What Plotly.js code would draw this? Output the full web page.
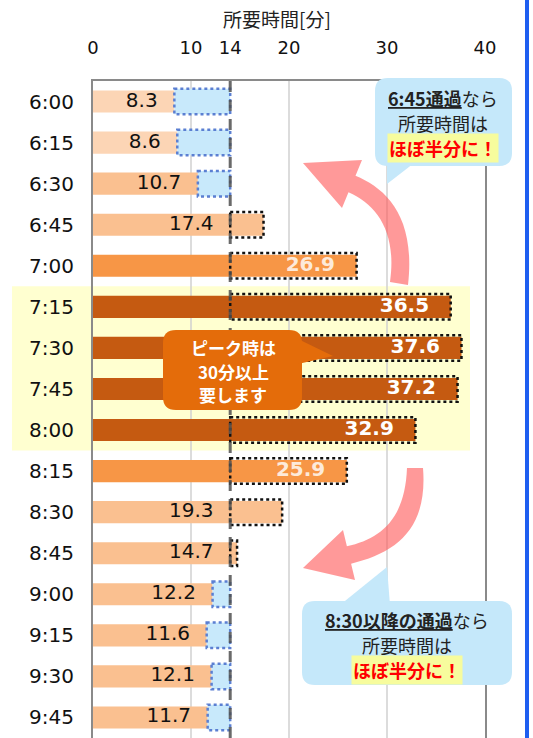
<!DOCTYPE html>
<html>
<head>
<meta charset="utf-8">
<script src="https://cdn.plot.ly/plotly-3.0.1.min.js"></script>
<style>html,body{margin:0;padding:0;background:#fff;}#chart{width:533px;height:738px;}</style>
</head>
<body>
<div id="chart"></div>
<script>
// ---- data ----
const times = ['6:00','6:15','6:30','6:45','7:00','7:15','7:30','7:45','8:00','8:15','8:30','8:45','9:00','9:15','9:30','9:45'];
const minutes = [8.3, 8.6, 10.7, 17.4, 26.9, 36.5, 37.6, 37.2, 32.9, 25.9, 19.3, 14.7, 12.2, 11.6, 12.1, 11.7];
const threshold = 14;
const xTickVals = [0, 10, 14, 20, 30, 40];
const peakTimes = ['7:15','7:30','7:45','8:00'];
const axisTitle = '所要時間[分]';

// ---- styles ----
const barColors = ['#FCD5B5','#FCD5B5','#FAC090','#FAC090','#F79646','#C55A11','#C55A11','#C55A11','#C55A11','#F79646','#FAC090','#FAC090','#FAC090','#FAC090','#FAC090','#FAC090'];
const labelColors = barColors.map(c => c === '#C55A11' ? '#FFFFFF' : (c === '#F79646' ? '#FDEADA' : '#111111'));
const FONT = 'DejaVu Sans, Noto Sans CJK JP, sans-serif';
const JFONT = 'Noto Sans CJK JP, DejaVu Sans, sans-serif';

// plot geometry (pixels)
const W = 533, H = 738, ML = 93, MR = 48, MT = 81, MB = 0;
const PW = W - ML - MR, PH = H - MT - MB;
const X = px => (px - ML) / PW;
const Y = py => 1 - (py - MT) / PH;
const P = s => s.replace(/(-?\d+(?:\.\d+)?),(-?\d+(?:\.\d+)?)/g, (m, a, b) => X(+a).toFixed(5) + ',' + Y(+b).toFixed(5));
const rr = (x0, y0, x1, y1, r) => P(`M${x0+r},${y0} L${x1-r},${y0} Q${x1},${y0} ${x1},${y0+r} L${x1},${y1-r} Q${x1},${y1} ${x1-r},${y1} L${x0+r},${y1} Q${x0},${y1} ${x0},${y1-r} L${x0},${y0+r} Q${x0},${y0} ${x0+r},${y0} Z`);
const idxPaper = i => 1 - (i + 0.5) / times.length;

// label positions derived from data
const labelX = minutes.map(v => v < 20 ? Math.min(v, threshold) - 1.7 : v - 2.2);
const labelText = minutes.map((v, i) => (barColors[i] === '#C55A11' || barColors[i] === '#F79646') ? '<b>' + v.toFixed(1) + '</b>' : v.toFixed(1));

const traces = [
  { type: 'bar', orientation: 'h', y: times, x: minutes, width: 0.54,
    marker: { color: barColors, line: { width: 0 } }, hoverinfo: 'skip', showlegend: false },
  { type: 'scatter', mode: 'text', y: times, x: labelX, text: labelText,
    textposition: 'middle left', textfont: { family: FONT, size: 20, color: labelColors },
    hoverinfo: 'skip', showlegend: false, cliponaxis: false }
];

const shapes = [];
// peak band
const pFirst = times.indexOf(peakTimes[0]), pLast = times.indexOf(peakTimes[peakTimes.length - 1]);
shapes.push({ type: 'rect', xref: 'paper', yref: 'paper', x0: X(12), x1: X(470),
  y0: idxPaper(pLast + 0.5), y1: idxPaper(pFirst - 0.5), fillcolor: '#FFFFD0', line: { width: 0 }, layer: 'below' });
// gridlines
[10, 20, 30].forEach(v => shapes.push({ type: 'line', xref: 'x', yref: 'paper', x0: v, x1: v, y0: 0, y1: 1,
  line: { color: '#D0D0D0', width: 1.5 }, layer: 'below' }));
// difference boxes
minutes.forEach((v, i) => {
  const below = v < threshold;
  shapes.push({ type: 'rect', xref: 'x', yref: 'y', x0: Math.min(v, threshold), x1: Math.max(v, threshold),
    y0: i - 0.31, y1: i + 0.31, fillcolor: below ? '#C8E9FB' : 'rgba(0,0,0,0)',
    line: { color: below ? '#5B7FD2' : '#111111', width: 2.5, dash: 'dot' }, layer: 'above' });
});
// threshold dashed line
shapes.push({ type: 'line', xref: 'x', yref: 'paper', x0: threshold, x1: threshold, y0: 0, y1: 1,
  line: { color: 'rgba(80,80,80,0.85)', width: 3, dash: '11px,8px' }, layer: 'above' });
// arrows
const arrowFill = 'rgba(255,85,85,0.6)';
shapes.push({ type: 'path', xref: 'paper', yref: 'paper', layer: 'above', fillcolor: arrowFill, line: { width: 0 },
  path: P('M303,163 L362,160 L355.5,175.7 C385,188 416,215 408,285 L390,282 C397,232 377,205 348.5,192.3 L342,208 Z') });
shapes.push({ type: 'path', xref: 'paper', yref: 'paper', layer: 'above', fillcolor: arrowFill, line: { width: 0 },
  path: P('M303,568 L343,530 L346.9,546.3 C380,539 405,520 407,468 L423,468 C428,530 395,553 351.1,563.7 L355,580 Z') });
// callouts
const calloutBlue = '#C5E8FA';
shapes.push({ type: 'path', xref: 'paper', yref: 'paper', layer: 'above', fillcolor: calloutBlue, line: { width: 0 }, path: rr(375, 78, 512, 166, 13) });
shapes.push({ type: 'path', xref: 'paper', yref: 'paper', layer: 'above', fillcolor: calloutBlue, line: { width: 0 }, path: P('M387,160 L418,160 L387,184 Z') });
shapes.push({ type: 'path', xref: 'paper', yref: 'paper', layer: 'above', fillcolor: calloutBlue, line: { width: 0 }, path: rr(302, 601, 512, 685, 13) });
shapes.push({ type: 'path', xref: 'paper', yref: 'paper', layer: 'above', fillcolor: calloutBlue, line: { width: 0 }, path: P('M340,605 L387,567 L390,605 Z') });
const calloutOrange = '#E46C0A';
shapes.push({ type: 'path', xref: 'paper', yref: 'paper', layer: 'above', fillcolor: calloutOrange, line: { width: 0 }, path: rr(163, 330, 302, 410, 13) });
shapes.push({ type: 'path', xref: 'paper', yref: 'paper', layer: 'above', fillcolor: calloutOrange, line: { width: 0 }, path: P('M298,339 L333,356 L298,364 Z') });
// right frame edge
shapes.push({ type: 'line', xref: 'paper', yref: 'paper', x0: X(527), x1: X(527), y0: Y(0), y1: Y(738), line: { color: '#1E5EF0', width: 4 }, layer: 'above' });

const ann = (px, py, text, size, color, extra) => Object.assign({ xref: 'paper', yref: 'paper', x: X(px), y: Y(py),
  xanchor: 'center', yanchor: 'middle', showarrow: false, text: text, font: { family: JFONT, size: size, color: color } }, extra || {});
const U = t => '<span style="text-decoration:underline">' + t + '</span>';
const annotations = [
  ann(277, 18, axisTitle, 19, '#222'),
  ann(443, 98, '<b>' + U('6:45通過') + '</b>なら', 18, '#222'),
  ann(443, 123, '所要時間は', 18, '#222'),
  ann(443, 148, '<b>ほぼ半分に！</b>', 18, '#FF0000', { bgcolor: 'rgba(255,255,140,0.85)', borderpad: 1 }),
  ann(407, 620, '<b>' + U('8:30以降の通過') + '</b>なら', 18, '#222'),
  ann(407, 645, '所要時間は', 18, '#222'),
  ann(407, 670, '<b>ほぼ半分に！</b>', 18, '#FF0000', { bgcolor: 'rgba(255,255,140,0.85)', borderpad: 1 }),
  ann(233, 348, '<b>ピーク時は</b>', 17, '#FFFFFF'),
  ann(233, 371, '<b>30分以上</b>', 17, '#FFFFFF'),
  ann(233, 394, '<b>要します</b>', 17, '#FFFFFF')
];

const layout = {
  width: W, height: H, margin: { l: ML, r: MR, t: MT, b: MB, pad: 0 },
  paper_bgcolor: '#FFFFFF', plot_bgcolor: 'rgba(0,0,0,0)',
  font: { family: FONT, color: '#111' },
  barmode: 'overlay', showlegend: false,
  xaxis: { side: 'top', range: [0, 40], tickvals: xTickVals, ticktext: xTickVals.map(String),
    showgrid: false, zeroline: false, showline: true, linecolor: '#8A8A8A', linewidth: 2,
    ticks: 'outside', ticklen: 18, tickcolor: 'rgba(0,0,0,0)', tickfont: { size: 18, color: '#111' }, fixedrange: true },
  yaxis: { type: 'category', categoryorder: 'array', categoryarray: times, range: [times.length - 0.5, -0.5],
    showgrid: false, zeroline: false, showline: true, mirror: true, linecolor: '#8A8A8A', linewidth: 2,
    ticks: 'outside', ticklen: 13, tickcolor: 'rgba(0,0,0,0)', tickfont: { size: 20, color: '#111' }, fixedrange: true },
  shapes: shapes, annotations: annotations
};

Plotly.newPlot('chart', traces, layout, { displayModeBar: false, staticPlot: true });
</script>
</body>
</html>
